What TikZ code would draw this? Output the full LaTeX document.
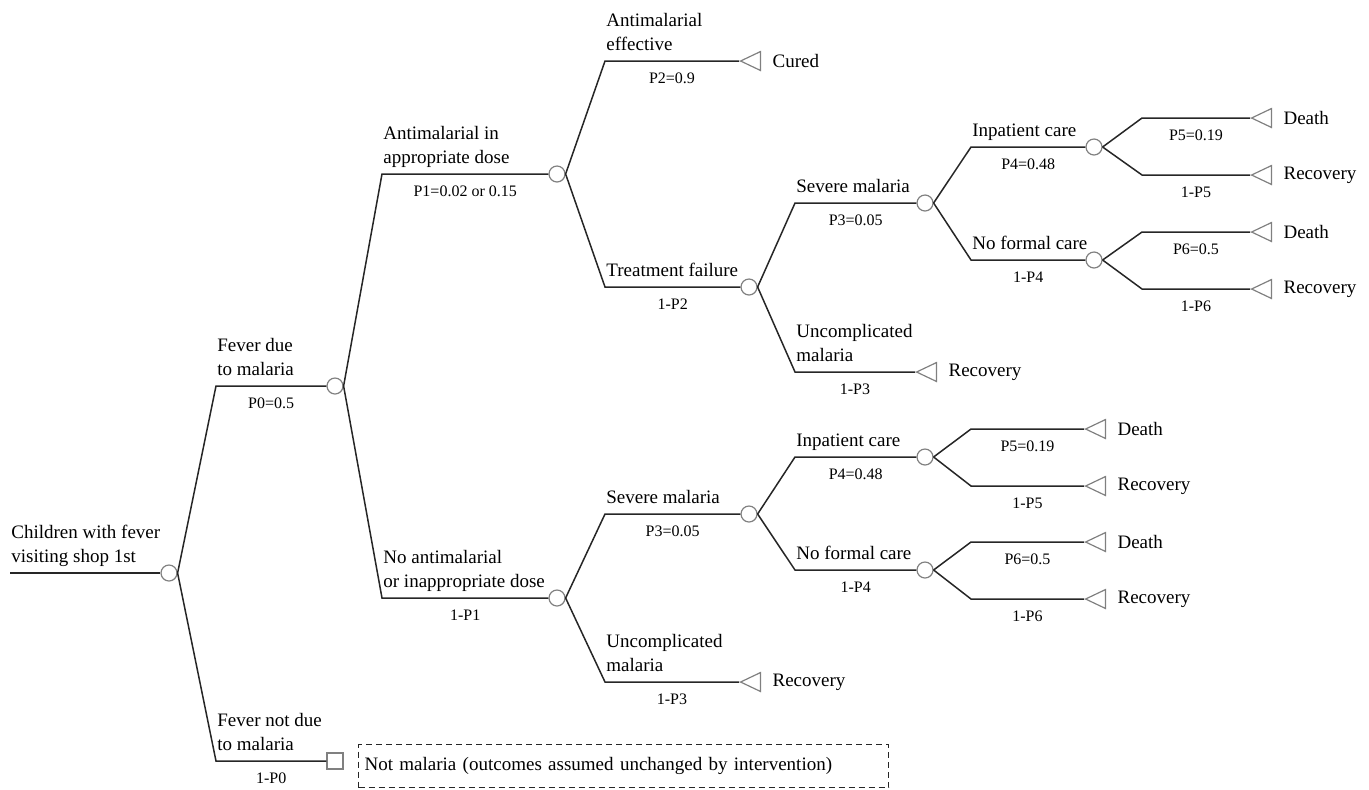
\documentclass[tikz,border=0pt]{standalone}
\usepackage{fontspec}
\setmainfont{Liberation Serif}
\usetikzlibrary{shapes.geometric}
\begin{document}
\begin{tikzpicture}[x=0.5pt,y=-0.5pt,
  br/.style={draw=black!85, line width=0.75pt},
  chance/.style={circle, draw=black!50, line width=0.6pt, minimum size=8pt, inner sep=0pt},
  sqnode/.style={rectangle, draw=black!50, line width=0.6pt, minimum size=8pt, inner sep=0pt},
  term/.style={isosceles triangle, shape border rotate=180, isosceles triangle stretches,
    minimum width=9.5pt, minimum height=10pt, inner sep=0pt, draw=black!50, line width=0.6pt, anchor=apex},
  lbl/.style={font=\fontsize{9.5}{12}\selectfont, inner sep=0pt, anchor=south west, align=left, xshift=0.5pt, yshift=1.5pt},
  prob/.style={font=\fontsize{8}{10}\selectfont, inner sep=0pt, anchor=base, yshift=-11pt},
  outc/.style={font=\fontsize{9.5}{12}\selectfont, inner sep=0pt, anchor=west, xshift=5.5pt},
  notebox/.style={draw=black!85, dashed, dash pattern=on 3pt off 2pt, line width=0.6pt, anchor=north west,
    minimum width=265pt, minimum height=21.5pt, inner xsep=3pt, font=\fontsize{9.5}{12}\selectfont, align=left, text width=259pt}
]
\useasboundingbox (0,0) rectangle (1369,789);

% chance nodes
\node[chance] (c0) at (169,573) {};
\node[chance] (c1) at (335,386) {};
\node[sqnode] (s0) at (335,761) {};
\node[chance] (c2) at (557,174) {};
\node[chance] (c3) at (557,598) {};
\node[chance] (c4) at (749,287) {};
\node[chance] (c5) at (925,203) {};
\node[chance] (c6) at (1094,147) {};
\node[chance] (c7) at (1094,260) {};
\node[chance] (c8) at (749,514) {};
\node[chance] (c9) at (925,457) {};
\node[chance] (c10) at (925,570) {};

% terminal nodes
\node[term] (tC) at (739,61) {};
\node[term] (tR1) at (915,372) {};
\node[term] (tD1) at (1250,118) {};
\node[term] (tR2) at (1250,175) {};
\node[term] (tD2) at (1250,232) {};
\node[term] (tR3) at (1250,289) {};
\node[term] (tR4) at (739,682) {};
\node[term] (tD3) at (1084,429) {};
\node[term] (tR5) at (1084,486) {};
\node[term] (tD4) at (1084,542) {};
\node[term] (tR6) at (1084,599) {};

% outcome texts
\node[outc] (oC) at (tC.east) {Cured};
\node[outc] (oR1) at (tR1.east) {Recovery};
\node[outc] (oD1) at (tD1.east) {Death};
\node[outc] (oR2) at (tR2.east) {Recovery};
\node[outc] (oD2) at (tD2.east) {Death};
\node[outc] (oR3) at (tR3.east) {Recovery};
\node[outc] (oR4) at (tR4.east) {Recovery};
\node[outc] (oD3) at (tD3.east) {Death};
\node[outc] (oR5) at (tR5.east) {Recovery};
\node[outc] (oD4) at (tD4.east) {Death};
\node[outc] (oR6) at (tR6.east) {Recovery};

% corners
\coordinate (k0) at (10,573);
\coordinate (k1) at (216,386);
\coordinate (k1b) at (216,761);
\coordinate (k2) at (382,174);
\coordinate (k3) at (382,598);
\coordinate (k4) at (605,61);
\coordinate (k5) at (605,287);
\coordinate (k6) at (795,203);
\coordinate (k7) at (795,372);
\coordinate (k8) at (971,147);
\coordinate (k9) at (971,260);
\coordinate (k10) at (1142,118);
\coordinate (k11) at (1142,175);
\coordinate (k12) at (1142,232);
\coordinate (k13) at (1142,289);
\coordinate (k14) at (605,514);
\coordinate (k15) at (605,682);
\coordinate (k16) at (795,457);
\coordinate (k17) at (795,570);
\coordinate (k18) at (971,429);
\coordinate (k19) at (971,486);
\coordinate (k20) at (971,542);
\coordinate (k21) at (971,599);

% branch labels
\node[lbl] (L0) at (k0) {Children with fever\\visiting shop 1st\strut};
\node[lbl] (L1) at (k1) {Fever due\\to malaria\strut};
\node[lbl] (L1b) at (k1b) {Fever not due\\to malaria\strut};
\node[lbl] (L2) at (k2) {Antimalarial in\\appropriate dose\strut};
\node[lbl] (L3) at (k3) {No antimalarial\\or inappropriate dose\strut};
\node[lbl] (L4) at (k4) {Antimalarial\\effective\strut};
\node[lbl] (L5) at (k5) {Treatment failure\strut};
\node[lbl] (L6) at (k6) {Severe malaria\strut};
\node[lbl] (L7) at (k7) {Uncomplicated\\malaria\strut};
\node[lbl] (L8) at (k8) {Inpatient care\strut};
\node[lbl] (L9) at (k9) {No formal care\strut};
\node[lbl] (L14) at (k14) {Severe malaria\strut};
\node[lbl] (L15) at (k15) {Uncomplicated\\malaria\strut};
\node[lbl] (L16) at (k16) {Inpatient care\strut};
\node[lbl] (L17) at (k17) {No formal care\strut};

% note box
\node[notebox] (nb) at (358,744) {Not malaria (outcomes assumed unchanged by intervention)};

% connectors
\draw[br] (k0) -- (c0.west);
\draw[br] (c0.east) -- (k1) -- node[prob] (p0) {P0=0.5} (c1.west);
\draw[br] (c0.east) -- (k1b) -- node[prob] (p0b) {1-P0} (s0.west);
\draw[br] (c1.east) -- (k2) -- node[prob] (p1) {P1=0.02 or 0.15} (c2.west);
\draw[br] (c1.east) -- (k3) -- node[prob] (p1b) {1-P1} (c3.west);
\draw[br] (c2.east) -- (k4) -- node[prob] (p2) {P2=0.9} (tC.apex);
\draw[br] (c2.east) -- (k5) -- node[prob] (p2b) {1-P2} (c4.west);
\draw[br] (c4.east) -- (k6) -- node[prob] (p3) {P3=0.05} (c5.west);
\draw[br] (c4.east) -- (k7) -- node[prob] (p3b) {1-P3} (tR1.apex);
\draw[br] (c5.east) -- (k8) -- node[prob] (p4) {P4=0.48} (c6.west);
\draw[br] (c5.east) -- (k9) -- node[prob] (p4b) {1-P4} (c7.west);
\draw[br] (c6.east) -- (k10) -- node[prob] (p5) {P5=0.19} (tD1.apex);
\draw[br] (c6.east) -- (k11) -- node[prob] (p5b) {1-P5} (tR2.apex);
\draw[br] (c7.east) -- (k12) -- node[prob] (p6) {P6=0.5} (tD2.apex);
\draw[br] (c7.east) -- (k13) -- node[prob] (p6b) {1-P6} (tR3.apex);
\draw[br] (c3.east) -- (k14) -- node[prob] (q3) {P3=0.05} (c8.west);
\draw[br] (c3.east) -- (k15) -- node[prob] (q3b) {1-P3} (tR4.apex);
\draw[br] (c8.east) -- (k16) -- node[prob] (q4) {P4=0.48} (c9.west);
\draw[br] (c8.east) -- (k17) -- node[prob] (q4b) {1-P4} (c10.west);
\draw[br] (c9.east) -- (k18) -- node[prob] (q5) {P5=0.19} (tD3.apex);
\draw[br] (c9.east) -- (k19) -- node[prob] (q5b) {1-P5} (tR5.apex);
\draw[br] (c10.east) -- (k20) -- node[prob] (q6) {P6=0.5} (tD4.apex);
\draw[br] (c10.east) -- (k21) -- node[prob] (q6b) {1-P6} (tR6.apex);
\end{tikzpicture}
\end{document}
